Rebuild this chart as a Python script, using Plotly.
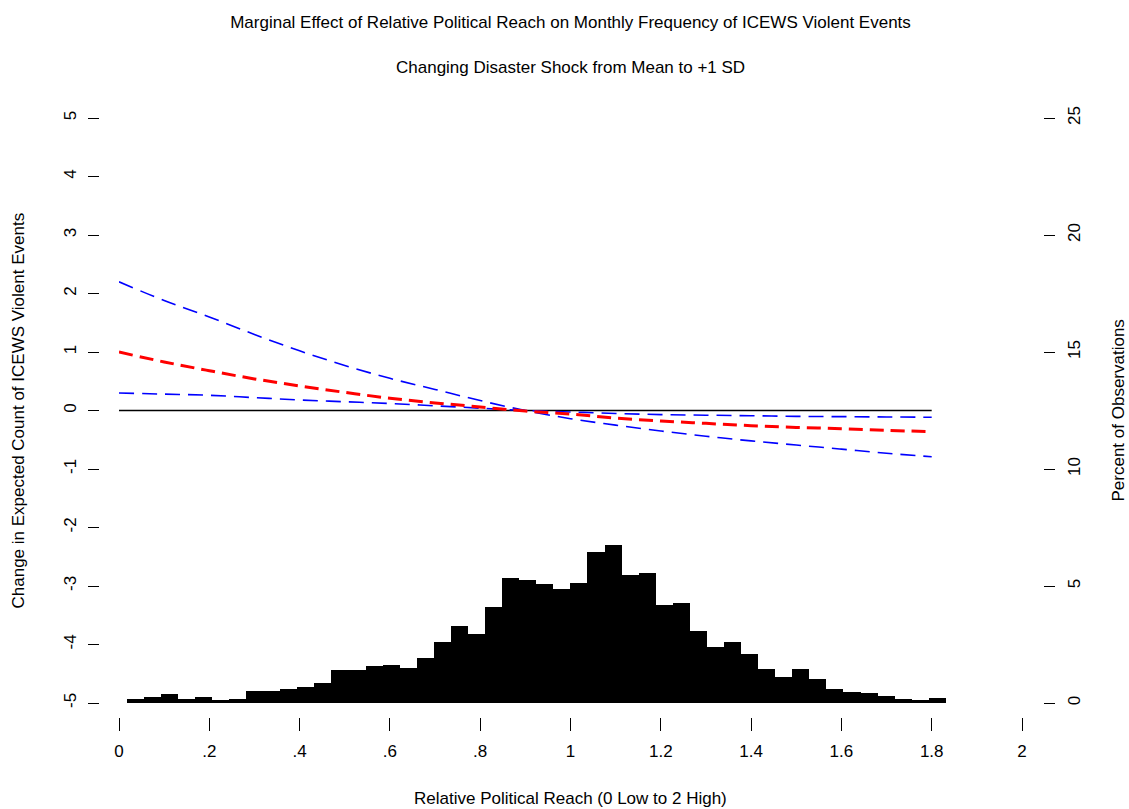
import plotly.graph_objects as go

# Marginal effect estimates over relative political reach
reach = [0.0, 0.1, 0.2, 0.3, 0.4, 0.5, 0.6, 0.7, 0.8, 0.9,
         1.0, 1.1, 1.2, 1.3, 1.4, 1.5, 1.6, 1.7, 1.8]
effect = [1.00, 0.83, 0.68, 0.54, 0.42, 0.31, 0.21, 0.13, 0.06, -0.01,
          -0.06, -0.13, -0.18, -0.22, -0.26, -0.29, -0.31, -0.34, -0.36]
ci_a = [2.20, 1.88, 1.60, 1.30, 1.02, 0.77, 0.55, 0.36, 0.17, 0.00,
        -0.14, -0.25, -0.35, -0.44, -0.52, -0.59, -0.66, -0.73, -0.79]
ci_b = [0.30, 0.28, 0.26, 0.22, 0.18, 0.15, 0.12, 0.08, 0.04, 0.00,
        -0.025, -0.05, -0.07, -0.08, -0.09, -0.10, -0.105, -0.11, -0.115]
zero_ref = [0.0] * len(reach)

# Distribution of relative political reach (percent of observations per bin)
bin_first = 0.017
bin_width = 0.0378
pct_obs = [0.19, 0.26, 0.38, 0.19, 0.26, 0.13, 0.19, 0.53, 0.53, 0.59,
           0.70, 0.87, 1.41, 1.41, 1.58, 1.61, 1.51, 1.94, 2.59, 3.30,
           2.93, 4.10, 5.33, 5.27, 5.07, 4.86, 5.11, 6.44, 6.75, 5.47,
           5.57, 4.19, 4.27, 3.09, 2.41, 2.59, 2.09, 1.46, 1.10, 1.45,
           1.01, 0.58, 0.48, 0.41, 0.30, 0.19, 0.11, 0.23]
bin_mid = [bin_first + (i + 0.5) * bin_width for i in range(len(pct_obs))]

x_ticks = [0, 0.2, 0.4, 0.6, 0.8, 1.0, 1.2, 1.4, 1.6, 1.8, 2.0]
x_labels = ["0", ".2", ".4", ".6", ".8", "1", "1.2", "1.4", "1.6", "1.8", "2"]
y_ticks = [-5, -4, -3, -2, -1, 0, 1, 2, 3, 4, 5]
y_labels = ["-5", "-4", "-3", "-2", "-1", "0", "1", "2", "3", "4", "5"]
pct_ticks = [0, 5, 10, 15, 20, 25]
pct_labels = ["0", "5", "10", "15", "20", "25"]

FONT = "Liberation Sans, Arial, sans-serif"
FS = 17
W, H = 1129, 809
L, R, T, B = 95, 79, 118, 92
pw = W - L - R
ph = H - T - B


def px_x(p):
    return (p - L) / pw


def px_y(p):
    return (H - B - p) / ph


fig = go.Figure()

fig.add_trace(go.Bar(
    x=bin_mid, y=pct_obs, width=bin_width, yaxis="y2",
    marker=dict(color="black", line=dict(width=0)),
    hoverinfo="x+y",
))
fig.add_trace(go.Scatter(
    x=reach, y=zero_ref, mode="lines",
    line=dict(color="black", width=1.6),
))
fig.add_trace(go.Scatter(
    x=reach, y=ci_a, mode="lines", line_shape="spline",
    line=dict(color="blue", width=1.6, dash="15px,8px"),
))
fig.add_trace(go.Scatter(
    x=reach, y=ci_b, mode="lines", line_shape="spline",
    line=dict(color="blue", width=1.6, dash="15px,8px"),
))
fig.add_trace(go.Scatter(
    x=reach, y=effect, mode="lines", line_shape="spline",
    line=dict(color="red", width=3, dash="14px,7px"),
))

tick_font = dict(family=FONT, size=FS, color="black")

fig.update_layout(
    width=W, height=H,
    margin=dict(l=L, r=R, t=T, b=B, pad=0),
    paper_bgcolor="white", plot_bgcolor="white",
    showlegend=False,
    bargap=0,
    font=dict(family=FONT, size=FS, color="black"),
    title=dict(
        text="Marginal Effect of Relative Political Reach on Monthly Frequency of ICEWS Violent Events",
        x=570.5 / W, xanchor="center",
        y=1 - 22 / H, yanchor="middle",
        font=dict(family=FONT, size=FS, color="black"),
    ),
    xaxis=dict(
        domain=[px_x(119), px_x(1022)],
        range=[0, 2], anchor="free", position=0,
        tickmode="array", tickvals=x_ticks, ticktext=x_labels,
        ticks="outside", ticklen=13, tickwidth=1, tickcolor="black",
        ticklabelstandoff=6,
        showline=False, showgrid=False, zeroline=False,
        tickfont=tick_font,
    ),
    yaxis=dict(
        domain=[px_y(703), px_y(118)],
        range=[-5, 5], anchor="free", position=px_x(99),
        tickmode="array", tickvals=y_ticks, ticktext=y_labels,
        ticks="outside", ticklen=11, tickwidth=1, tickcolor="black",
        tickangle=-90, ticklabelstandoff=5,
        showline=False, showgrid=False, zeroline=False,
        tickfont=tick_font,
    ),
    yaxis2=dict(
        range=[0, 25], overlaying="y", side="right",
        anchor="free", position=px_x(1043),
        tickmode="array", tickvals=pct_ticks, ticktext=pct_labels,
        ticks="outside", ticklen=11, tickwidth=1, tickcolor="black",
        tickangle=-90, ticklabelstandoff=5,
        showline=False, showgrid=False, zeroline=False,
        tickfont=tick_font,
    ),
    annotations=[
        dict(text="Changing Disaster Shock from Mean to +1 SD",
             xref="paper", yref="paper", x=px_x(570.5), y=px_y(68),
             xanchor="center", yanchor="middle", showarrow=False,
             font=dict(family=FONT, size=FS, color="black")),
        dict(text="Relative Political Reach (0 Low to 2 High)",
             xref="paper", yref="paper", x=px_x(570.5), y=px_y(799),
             xanchor="center", yanchor="middle", showarrow=False,
             font=dict(family=FONT, size=FS, color="black")),
        dict(text="Change in Expected Count of ICEWS Violent Events",
             xref="paper", yref="paper", x=px_x(18), y=px_y(410.5),
             xanchor="center", yanchor="middle", showarrow=False,
             textangle=-90,
             font=dict(family=FONT, size=FS, color="black")),
        dict(text="Percent of Observations",
             xref="paper", yref="paper", x=px_x(1118), y=px_y(410.5),
             xanchor="center", yanchor="middle", showarrow=False,
             textangle=-90,
             font=dict(family=FONT, size=FS, color="black")),
    ],
)

fig.write_html("out.html")
